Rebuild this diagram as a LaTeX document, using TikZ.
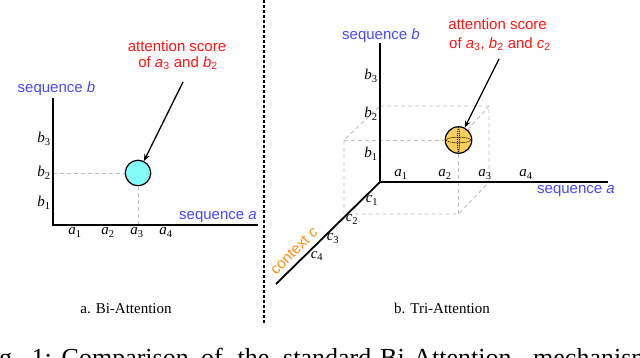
\documentclass[tikz,border=0pt]{standalone}
\usepackage{fontspec}
\setmainfont{Liberation Serif}
\setsansfont{Liberation Sans}
\usetikzlibrary{arrows.meta}
\definecolor{seqblue}{RGB}{72,72,255}
\definecolor{scorered}{RGB}{255,20,20}
\definecolor{ctxorange}{RGB}{255,140,20}
\definecolor{cyanfill}{RGB}{130,252,245}
\definecolor{spherefill}{RGB}{250,208,90}
\definecolor{guide}{RGB}{190,190,190}
\newcommand{\vlab}[2]{\textit{#1}\textsubscript{#2}}
\tikzset{
  axisline/.style={line width=1.8pt},
  guideline/.style={draw=guide, line width=0.9pt, dash pattern=on 4pt off 3pt},
  seqlabel/.style={font=\sffamily\fontsize{15}{18}\selectfont, text=seqblue, inner sep=0pt, anchor=base},
  scorelabel/.style={font=\sffamily\fontsize{15}{18}\selectfont, text=scorered, inner sep=0pt, anchor=base},
  ticklabel/.style={font=\fontsize{15}{18}\selectfont, inner sep=0pt, anchor=base},
  panellabel/.style={font=\fontsize{15}{18}\selectfont, inner sep=0pt, anchor=base},
  captionword/.style={font=\fontsize{26}{30}\selectfont, inner sep=0pt, anchor=base west},
  pointer/.style={line width=1.3pt, -{Stealth[length=7pt,width=5.5pt]}},
  ball/.style={circle, draw, line width=1.2pt, inner sep=0pt, minimum size=25.5pt},
}
\begin{document}
\begin{tikzpicture}[x=1pt,y=-1pt]
\useasboundingbox (0,0) rectangle (640,358);
\clip (0,0) rectangle (640,358);

% separator
\coordinate (septop) at (264,0);
\coordinate (sepbot) at (264,323);
\draw[line width=2pt, dash pattern=on 3pt off 2pt] (septop) -- (sepbot);

% ---------------- left panel ----------------
\coordinate (Lo) at (53,225);
\coordinate (Ltop) at (53,98);
\coordinate (Lend) at (258,225);
\node[ball, fill=cyanfill] (cyc) at (138,173) {};
\draw[guideline] (Lo |- cyc) -- (cyc.west);
\draw[guideline] (cyc.south) -- (cyc |- Lo);
\draw[axisline] (Ltop) -- (Lo) -- (Lend);

\node[seqlabel] (lseqb) at (56.5,93) {sequence \textit{b}};
\node[seqlabel] (lseqa) at (218,219.5) {sequence \textit{a}};

\node[ticklabel] (lb3) at (44,143) {\vlab{b}{3}};
\node[ticklabel] (lb2) at (44,177) {\vlab{b}{2}};
\node[ticklabel] (lb1) at (44,207) {\vlab{b}{1}};
\node[ticklabel] (la1) at (75,235) {\vlab{a}{1}};
\node[ticklabel] (la2) at (108,235) {\vlab{a}{2}};
\node[ticklabel] (la3) at (137,235) {\vlab{a}{3}};
\node[ticklabel] (la4) at (166,235) {\vlab{a}{4}};

\node[scorelabel] (lscore1) at (177,52) {attention score};
\node[scorelabel] (lscore2) at (178,67.5) {of \vlab{a}{3} and \vlab{b}{2}};
\coordinate (lptr) at (183,82);
\draw[pointer] (lptr) -- (cyc);

\node[panellabel] (capa) at (126,313) {a. Bi-Attention};

% ---------------- right panel ----------------
\coordinate (O) at (380,182);
\coordinate (Rtop) at (380,43);
\coordinate (Rend) at (608,182);
\coordinate (Cend) at (276,284);

\coordinate (bt) at (380,106);
\coordinate (btr) at (489,106);
\coordinate (a3p) at (489,182);
\coordinate (ftl) at (344,140);
\coordinate (fbl) at (344,214);
\coordinate (fbr) at (458.5,214);

\node[ball, fill=spherefill, minimum size=26.5pt] (sph) at (458.5,140) {};
\draw[guideline] (bt) -- (btr) -- (a3p) -- (fbr) -- (fbl) -- (ftl) -- (bt);
\draw[guideline] (ftl) -- (sph.west);
\draw[guideline] (sph.south) -- (fbr);
\draw[guideline] (sph) -- (btr);
\draw[line width=0.8pt, dash pattern=on 1pt off 1pt] (sph.center) ellipse [x radius=12.3pt, y radius=2.8pt];
\draw[line width=0.8pt, dash pattern=on 1pt off 1pt] (sph.center) ellipse [x radius=1pt, y radius=12.3pt];

\draw[axisline] (Rtop) -- (O) -- (Rend);
\draw[axisline] (O) -- (Cend);

\node[seqlabel] (rseqb) at (381,40) {sequence \textit{b}};
\node[seqlabel] (rseqa) at (576,194) {sequence \textit{a}};
\node[font=\sffamily\fontsize{15}{18}\selectfont, text=ctxorange, inner sep=0pt, rotate=45] (ctx) at (294,251) {context \textit{c}};

\node[ticklabel] (rb3) at (371,80) {\vlab{b}{3}};
\node[ticklabel] (rb2) at (371,118) {\vlab{b}{2}};
\node[ticklabel] (rb1) at (371,158) {\vlab{b}{1}};
\node[ticklabel] (ra1) at (401,177) {\vlab{a}{1}};
\node[ticklabel] (ra2) at (445,177) {\vlab{a}{2}};
\node[ticklabel] (ra3) at (485,177) {\vlab{a}{3}};
\node[ticklabel] (ra4) at (526,177) {\vlab{a}{4}};
\node[ticklabel] (rc1) at (372,203) {\vlab{c}{1}};
\node[ticklabel] (rc2) at (352,222) {\vlab{c}{2}};
\node[ticklabel] (rc3) at (333,241) {\vlab{c}{3}};
\node[ticklabel] (rc4) at (317,258.5) {\vlab{c}{4}};

\node[scorelabel] (rscore1) at (497.5,29.5) {attention score};
\node[scorelabel] (rscore2) at (500,48.5) {of \vlab{a}{3}, \vlab{b}{2} and \vlab{c}{2}};
\coordinate (rptr) at (499,59);
\draw[pointer] (rptr) -- (sph);

\node[panellabel] (capb) at (442,313) {b. Tri-Attention};

% ---------------- cut-off figure caption ----------------
\node[captionword] (w1) at (-1,366) {g.};
\node[captionword] (w2) at (31.5,366) {1:};
\node[captionword] (w3) at (61.5,366) {Comparison};
\node[captionword] (w4) at (201,366) {of};
\node[captionword] (w5) at (237.5,366) {the};
\node[captionword] (w6) at (283,366) {standard};
\node[captionword] (w7) at (380,366) {Bi-Attention};
\node[captionword] (w8) at (533,366) {mechanism};
\end{tikzpicture}
\end{document}
